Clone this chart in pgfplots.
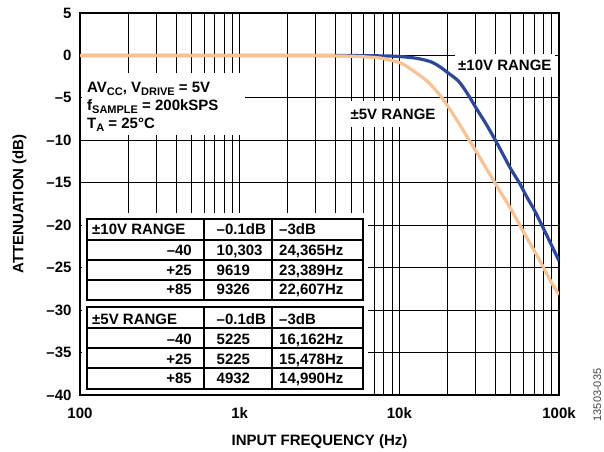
\documentclass[border=0pt]{standalone}
\usepackage{pgfplots}
\pgfplotsset{compat=1.18}
\usepackage{fontspec}
\setmainfont{Liberation Sans}
\definecolor{cblue}{RGB}{44,72,156}
\definecolor{corange}{RGB}{248,194,146}
\newcommand{\fs}{\fontsize{15}{18}\selectfont\bfseries}
\newcommand{\sub}[1]{\raisebox{-0.22em}{\fontsize{11}{13}\selectfont #1}}
\begin{document}
\begin{tikzpicture}
\useasboundingbox (0pt,0pt) rectangle (604pt,451pt);
\begin{axis}[
 at={(80pt,56pt)}, anchor=south west,
 scale only axis, width=479pt, height=382pt,
 xmode=log, xmin=100, xmax=100000, ymin=-40, ymax=5,
 xtick={100,1000,10000,100000}, xticklabels={100,1k,10k,100k},
 minor xtick={200,300,400,500,600,700,800,900,2000,3000,4000,5000,6000,7000,8000,9000,20000,30000,40000,50000,60000,70000,80000,90000},
 ytick={-40,-35,-30,-25,-20,-15,-10,-5,0,5},
 yticklabels={–40,–35,–30,–25,–20,–15,–10,–5,0,5},
 xmajorgrids, xminorgrids, ymajorgrids,
 major grid style={black, line width=0.9pt},
 minor grid style={black, line width=0.9pt},
 major tick length=0pt, minor tick length=0pt,
 axis line style={line width=1.6pt},
 tick label style={font=\fs},
 xticklabel style={yshift=-9pt},
 yticklabel style={xshift=-5pt},
]
\node[fill=white, font=\fs, inner xsep=3pt, inner ysep=6pt] at (rel axis cs:0.887,0.8626) {±10V RANGE};
\node[fill=white, font=\fs, inner xsep=4pt, inner ysep=8pt] at (rel axis cs:0.6534,0.7356) {±5V RANGE};
\addplot[cblue, line width=3.2pt, smooth] coordinates {
(100,0) (1000,0) (2000,-0.002) (3000,-0.004) (5000,-0.012) (7000,-0.04) (8500,-0.07) (9619,-0.1) (12000,-0.26) (14000,-0.48) (16000,-0.8) (18000,-1.35) (20000,-2.0) (23389,-3.0) (26500,-4.4) (30500,-6.3) (35000,-8.1) (40000,-10.0) (45000,-11.8) (50000,-13.4) (56400,-15.0) (63000,-16.7) (70000,-18.2) (80000,-20.4) (90000,-22.4) (100000,-24.2)
};
\addplot[corange, line width=3.2pt, smooth] coordinates {
(100,0) (1000,0) (2000,-0.005) (3000,-0.02) (4000,-0.05) (5225,-0.1) (6500,-0.2) (7570,-0.3) (9000,-0.6) (10500,-1.0) (12200,-1.8) (14000,-2.6) (15478,-3.3) (18000,-4.7) (21000,-6.5) (24000,-8.2) (27000,-9.8) (30500,-11.4) (35000,-13.3) (39700,-15.0) (45000,-16.7) (50700,-18.3) (60000,-20.8) (70000,-23.0) (80000,-25.0) (90000,-26.8) (100000,-28.2)
};
\end{axis}
% annotation block
\fill[white] (81.5pt,316pt) rectangle (245pt,378pt);
\node[anchor=base west, font=\fs, inner sep=0pt] at (87pt,359pt) {AV\sub{CC}, V\sub{DRIVE} = 5V};
\node[anchor=base west, font=\fs, inner sep=0pt] at (87pt,341pt) {f\sub{SAMPLE} = 200kSPS};
\node[anchor=base west, font=\fs, inner sep=0pt] at (87pt,323pt) {T\sub{A} = 25°C};
% tables
\fill[white] (81.5pt,57.5pt) rectangle (368pt,238pt);
\begin{scope}[line width=1.2pt]
\draw (87pt,151pt) rectangle (363pt,232pt);
\draw (87pt,211pt) -- (363pt,211pt);
\draw (87pt,191pt) -- (363pt,191pt);
\draw (87pt,171pt) -- (363pt,171pt);
\draw (204pt,151pt) -- (204pt,232pt);
\draw (272pt,151pt) -- (272pt,232pt);
\draw (87pt,62pt) rectangle (363pt,144pt);
\draw (87pt,123pt) -- (363pt,123pt);
\draw (87pt,103pt) -- (363pt,103pt);
\draw (87pt,83pt) -- (363pt,83pt);
\draw (204pt,62pt) -- (204pt,144pt);
\draw (272pt,62pt) -- (272pt,144pt);
\end{scope}
\begin{scope}[every node/.style={font=\fs, inner sep=0pt}]
\node[anchor=base west] at (92pt,216.5pt) {±10V RANGE};
\node[anchor=base west] at (216.5pt,216.5pt) {–0.1dB};
\node[anchor=base west] at (279pt,216.5pt) {–3dB};
\node[anchor=base east] at (192pt,195.7pt) {–40};
\node[anchor=base west] at (216.5pt,195.7pt) {10,303};
\node[anchor=base west] at (279pt,195.7pt) {24,365Hz};
\node[anchor=base east] at (192pt,175.7pt) {+25};
\node[anchor=base west] at (216.5pt,175.7pt) {9619};
\node[anchor=base west] at (279pt,175.7pt) {23,389Hz};
\node[anchor=base east] at (192pt,156.2pt) {+85};
\node[anchor=base west] at (216.5pt,156.2pt) {9326};
\node[anchor=base west] at (279pt,156.2pt) {22,607Hz};
\node[anchor=base west] at (92pt,127pt) {±5V RANGE};
\node[anchor=base west] at (216.5pt,127pt) {–0.1dB};
\node[anchor=base west] at (279pt,127pt) {–3dB};
\node[anchor=base east] at (192pt,106.5pt) {–40};
\node[anchor=base west] at (216.5pt,106.5pt) {5225};
\node[anchor=base west] at (279pt,106.5pt) {16,162Hz};
\node[anchor=base east] at (192pt,87pt) {+25};
\node[anchor=base west] at (216.5pt,87pt) {5225};
\node[anchor=base west] at (279pt,87pt) {15,478Hz};
\node[anchor=base east] at (192pt,68pt) {+85};
\node[anchor=base west] at (216.5pt,68pt) {4932};
\node[anchor=base west] at (279pt,68pt) {14,990Hz};
\end{scope}
% axis titles
\node[anchor=base, font=\fs, inner sep=0pt] at (319.5pt,6pt) {INPUT FREQUENCY (Hz)};
\node[anchor=base, rotate=90, font=\fs, inner sep=0pt] at (23.5pt,247pt) {ATTENUATION (dB)};
\node[anchor=base, rotate=90, font=\fontsize{11}{13}\selectfont, text=black!75, inner sep=0pt] at (601pt,56pt) {13503-035};
\end{tikzpicture}
\end{document}
